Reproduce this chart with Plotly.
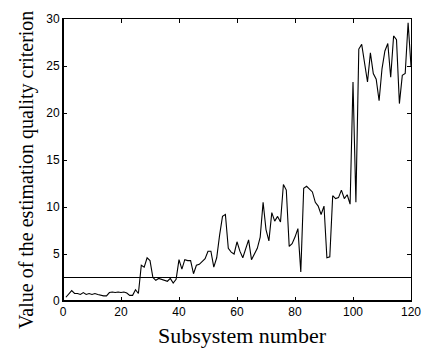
import plotly.graph_objects as go

subsystem = list(range(1, 121))
criterion = [
    0.4, 0.7, 1.1, 0.8, 0.8, 0.7, 0.9, 0.7, 0.8, 0.7,
    0.8, 0.7, 0.6, 0.55, 0.55, 0.9, 0.95, 0.9, 0.95, 0.9,
    0.95, 0.85, 0.6, 0.6, 1.2, 0.8, 3.8, 3.6, 4.6, 4.3,
    2.5, 2.2, 2.4, 2.3, 2.2, 2.1, 2.4, 1.9, 2.3, 4.4,
    3.4, 4.4, 4.3, 4.3, 2.9, 3.8, 3.9, 4.2, 4.5, 5.3,
    5.3, 3.6, 4.6, 7.0, 9.0, 9.2, 5.6, 5.2, 5.0, 6.3,
    5.3, 4.6, 5.5, 6.5, 4.4, 5.0, 5.6, 6.8, 10.5, 7.6,
    6.4, 9.4, 8.5, 9.0, 8.4, 12.4, 11.8, 5.8, 6.1, 6.8,
    7.7, 3.1, 12.0, 12.2, 11.9, 11.6, 10.5, 10.1, 9.2, 10.1,
    4.6, 4.7, 11.2, 10.9, 11.0, 11.8, 10.9, 11.3, 10.3, 23.3,
    10.5, 26.8, 27.3, 25.2, 23.3, 26.4, 24.2, 23.6, 21.3, 24.7,
    26.6, 27.4, 23.8, 28.2, 27.8, 21.0, 24.0, 24.2, 29.6, 25.0,
]
threshold = 2.5

x_ticks = [0, 20, 40, 60, 80, 100, 120]
y_ticks = [0, 5, 10, 15, 20, 25, 30]

fig = go.Figure()
fig.add_trace(go.Scatter(
    x=subsystem, y=criterion, mode="lines",
    line=dict(color="black", width=1.1), showlegend=False,
))
fig.add_hline(y=threshold, line=dict(color="black", width=1.1))

axis_common = dict(
    showgrid=False, zeroline=False, showline=True, linecolor="black",
    linewidth=1, mirror="ticks", ticks="inside", ticklen=4,
    tickcolor="black", tickwidth=1,
    tickfont=dict(family="Liberation Sans, Arial", size=12, color="black"),
)
fig.update_xaxes(range=[0, 120], tickvals=x_ticks, **axis_common)
fig.update_yaxes(range=[0, 30], tickvals=y_ticks, **axis_common)

# thicker bottom and left axis lines
fig.add_shape(type="line", xref="paper", yref="paper", x0=0, x1=1, y0=0, y1=0,
              line=dict(color="black", width=2))
fig.add_shape(type="line", xref="paper", yref="paper", x0=0, x1=0, y0=0, y1=1,
              line=dict(color="black", width=2))

fig.add_annotation(text="Subsystem number", xref="paper", yref="paper",
                   x=0.515, y=-0.123, xanchor="center", yanchor="middle",
                   showarrow=False,
                   font=dict(family="Liberation Serif, Times New Roman", size=22, color="black"))
fig.add_annotation(text="Value of the estimation quality criterion", xref="paper", yref="paper",
                   x=-0.1034, y=0.465, xanchor="center", yanchor="middle", textangle=-90,
                   showarrow=False,
                   font=dict(family="Liberation Serif, Times New Roman", size=20, color="black"))

fig.update_layout(
    width=433, height=351,
    margin=dict(l=63, r=12, t=16, b=50),
    paper_bgcolor="white", plot_bgcolor="white",
)

fig.write_html("out.html")
